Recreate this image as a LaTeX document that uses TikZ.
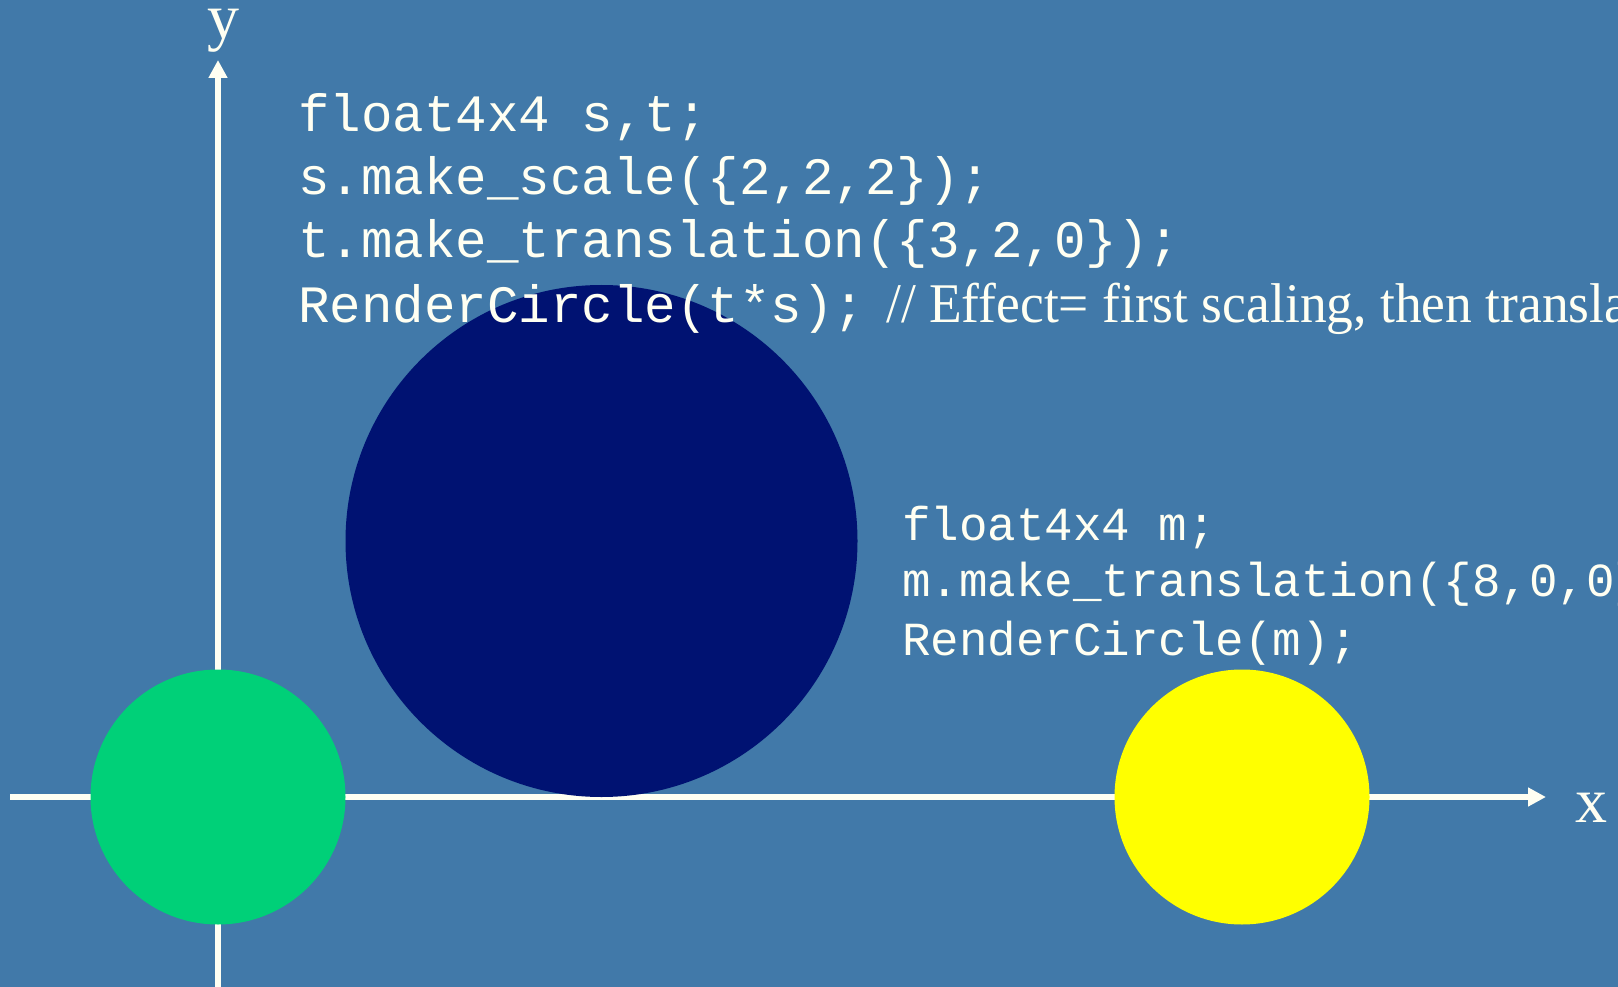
\documentclass[tikz,border=0pt]{standalone}
\usepackage{fontspec}
\setmainfont{Liberation Serif}
\newfontfamily\codefont{Liberation Mono}
\usetikzlibrary{arrows.meta}
\definecolor{bgblue}{RGB}{65,121,169}
\definecolor{navycirc}{RGB}{0,18,114}
\definecolor{greencirc}{RGB}{0,208,120}
\definecolor{yellowcirc}{RGB}{255,255,0}
\definecolor{axiswhite}{RGB}{255,255,242}
\tikzset{
  axisline/.style={draw=axiswhite, line width=6pt, -{Triangle[width=18pt,length=18pt]}},
  codeA/.style={anchor=base west, inner sep=0pt, text=axiswhite, font=\codefont\fontsize{52.5}{60}\selectfont},
  codeB/.style={anchor=base west, inner sep=0pt, text=axiswhite, font=\codefont\fontsize{47.5}{55}\selectfont},
  commenttext/.style={anchor=base west, inner sep=0pt, text=axiswhite, font=\fontsize{56}{60}\selectfont},
  axislabel/.style={anchor=base, inner sep=0pt, text=axiswhite, font=\fontsize{64}{70}\selectfont},
}
\begin{document}
\begin{tikzpicture}[x=1pt,y=-1pt]
\path[use as bounding box] (0,0) rectangle (1618,987);
\clip (0,0) rectangle (1618,987);
\fill[bgblue] (0,0) rectangle (1618,987);
% axes
\coordinate (ybot) at (218,987);
\coordinate (ytop) at (218,60);
\coordinate (xleft) at (10,797);
\coordinate (xright) at (1546,797);
\draw[axisline] (ybot) -- (ytop);
\draw[axisline] (xleft) -- (xright);
\node[axislabel] (ylab) at (223,39) {y};
\node[axislabel] (xlab) at (1591,822) {x};
% circles
\fill[greencirc] (218,797) circle (127.5);
\fill[navycirc] (601.5,541) circle (256);
\fill[yellowcirc] (1242,797) circle (127.5);
% code block 1
\node[codeA] (l1) at (298,132) {float4x4 s,t;};
\node[codeA] (l2) at (298,195) {s.make\_scale(\{2,2,2\});};
\node[codeA] (l3) at (298,258) {t.make\_translation(\{3,2,0\});};
\node[codeA] (l4) at (298,322) {RenderCircle(t*s);};
\node[commenttext,xscale=0.955] (cm) at (886,322) {// Effect= first scaling, then translation};
% code block 2
\node[codeB] (m1) at (902,540) {float4x4 m;};
\node[codeB] (m2) at (902,596) {m.make\_translation(\{8,0,0\});};
\node[codeB] (m3) at (902,655) {RenderCircle(m);};
\end{tikzpicture}
\end{document}
